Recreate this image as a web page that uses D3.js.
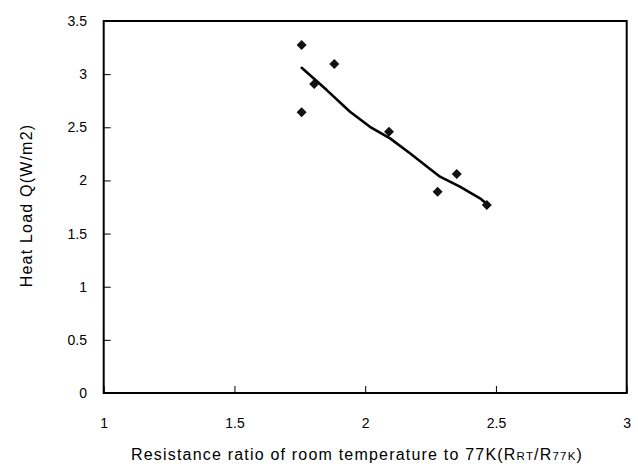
<!DOCTYPE html>
<html>
<head>
<meta charset="utf-8">
<script src="https://cdn.jsdelivr.net/npm/d3@7"></script>
<style>
  html, body { margin: 0; padding: 0; background: #fff; }
  svg { display: block; }
  text { font-family: "Liberation Sans", Arial, sans-serif; fill: #000; }
</style>
</head>
<body>
<svg id="chart" width="638" height="464"></svg>
<script>
// ---- data ----
const resistanceRatio = [1.757, 1.882, 1.805, 1.757, 2.091, 2.350, 2.277, 2.465];
const heatLoad        = [3.274, 3.095, 2.907, 2.641, 2.458, 2.060, 1.894, 1.769];
const trendX = [1.757, 1.853, 1.942, 2.018, 2.095, 2.171, 2.286, 2.362, 2.439, 2.470];
const trendY = [3.060, 2.850, 2.646, 2.505, 2.396, 2.255, 2.035, 1.941, 1.832, 1.769];
const xTickValues = [1, 1.5, 2, 2.5, 3];
const yTickValues = [0, 0.5, 1, 1.5, 2, 2.5, 3, 3.5];
const xTickLabels = ["1", "1.5", "2", "2.5", "3"];
const yTickLabels = ["0", "0.5", "1", "1.5", "2", "2.5", "3", "3.5"];

const svg = d3.select("#chart");
const W = 638, H = 464;
const m = { left: 103.7, top: 21, right: 11.3, bottom: 71 };
const iw = W - m.left - m.right, ih = H - m.top - m.bottom;

const x = d3.scaleLinear().domain([1, 3]).range([0, iw]);
const y = d3.scaleLinear().domain([0, 3.5]).range([ih, 0]);

const g = svg.append("g").attr("transform", `translate(${m.left},${m.top})`);

// axes (inward ticks)
const xAxis = d3.axisBottom(x).tickValues(xTickValues)
  .tickFormat((d, i) => xTickLabels[i]).tickSize(-7).tickPadding(25);
const yAxis = d3.axisLeft(y).tickValues(yTickValues)
  .tickFormat((d, i) => yTickLabels[i]).tickSize(-7).tickPadding(16.7);

const gx = g.append("g").attr("transform", `translate(0,${ih})`).call(xAxis);
const gy = g.append("g").call(yAxis);
[gx, gy].forEach(a => {
  a.select(".domain").remove();
  a.selectAll(".tick line").attr("stroke", "#000").attr("stroke-width", 1);
  a.selectAll(".tick text").attr("font-size", 14)
    .attr("font-family", "'Liberation Sans', Arial, sans-serif").attr("fill", "#000");
});

// frame
g.append("rect").attr("x", 0).attr("y", 0).attr("width", iw).attr("height", ih)
  .attr("fill", "none").attr("stroke", "#000").attr("stroke-width", 2);

// trend line
const line = d3.line().x(d => x(d[0])).y(d => y(d[1])).curve(d3.curveLinear);
g.append("path")
  .datum(trendX.map((v, i) => [v, trendY[i]]))
  .attr("d", line)
  .attr("fill", "none").attr("stroke", "#000").attr("stroke-width", 2.6)
  .attr("stroke-linejoin", "round").attr("stroke-linecap", "round");

// points (diamonds)
const sym = d3.symbol().type(d3.symbolSquare).size(50);
g.selectAll(".pt").data(resistanceRatio.map((v, i) => [v, heatLoad[i]]))
  .enter().append("path").attr("class", "pt")
  .attr("d", sym)
  .attr("transform", d => `translate(${x(d[0])},${y(d[1])}) rotate(45)`)
  .attr("fill", "#111");

// axis titles
const xt = svg.append("text")
  .attr("x", 357).attr("y", 460).attr("text-anchor", "middle")
  .attr("font-size", 16).attr("letter-spacing", 1.2);
xt.append("tspan").text("Resistance ratio of room temperature to 77K(R");
xt.append("tspan").attr("font-size", 11.5).text("RT");
xt.append("tspan").text("/R");
xt.append("tspan").attr("font-size", 11.5).text("77K");
xt.append("tspan").text(")");

svg.append("text")
  .attr("transform", "translate(32,205.5) rotate(-90)")
  .attr("text-anchor", "middle")
  .attr("font-size", 16).attr("letter-spacing", 1.2)
  .text("Heat Load Q(W/m2)");
</script>
</body>
</html>
